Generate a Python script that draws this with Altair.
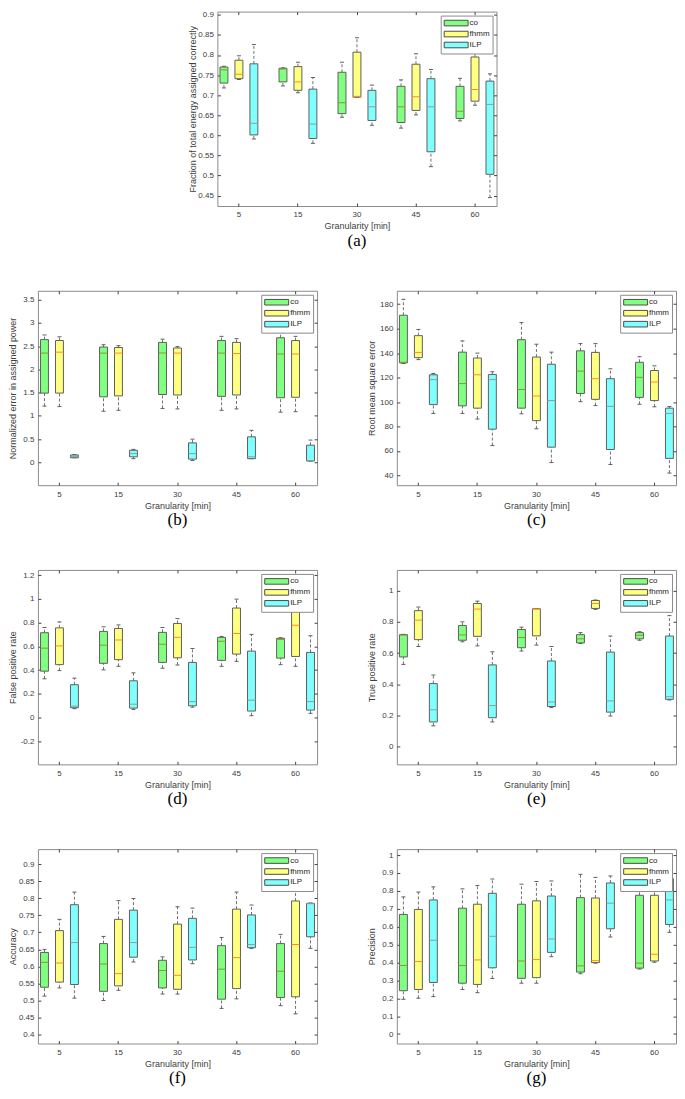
import altair as alt
import pandas as pd

# ---------------- data (lo, q1, median, q3, hi) per granularity ----------------
GRAN = ["5", "15", "30", "45", "60"]
SERIES = ["co", "fhmm", "ILP"]

A_CO = [(0.718, 0.730, 0.763, 0.770, 0.772), (0.723, 0.733, 0.765, 0.767, 0.768), (0.645, 0.654, 0.681, 0.757, 0.782), (0.618, 0.632, 0.671, 0.722, 0.738), (0.636, 0.642, 0.660, 0.722, 0.742)]
A_FHMM = [(0.739, 0.741, 0.752, 0.787, 0.798), (0.706, 0.712, 0.733, 0.771, 0.782), (0.695, 0.695, 0.697, 0.807, 0.843), (0.651, 0.662, 0.696, 0.777, 0.803), (0.675, 0.685, 0.714, 0.795, 0.810)]
A_ILP = [(0.591, 0.601, 0.630, 0.778, 0.826), (0.580, 0.592, 0.628, 0.715, 0.744), (0.625, 0.637, 0.671, 0.712, 0.725), (0.522, 0.559, 0.671, 0.741, 0.764), (0.445, 0.503, 0.677, 0.735, 0.753)]

B_CO = [(1.21, 1.49, 2.35, 2.64, 2.74), (1.10, 1.41, 2.35, 2.48, 2.53), (1.16, 1.46, 2.35, 2.58, 2.65), (1.12, 1.42, 2.35, 2.62, 2.71), (1.08, 1.39, 2.33, 2.68, 2.79)]
B_FHMM = [(1.20, 1.49, 2.37, 2.62, 2.70), (1.12, 1.43, 2.35, 2.47, 2.51), (1.15, 1.45, 2.35, 2.46, 2.49), (1.15, 1.45, 2.34, 2.58, 2.66), (1.09, 1.40, 2.33, 2.62, 2.71)]
B_ILP = [(0.10, 0.10, 0.13, 0.16, 0.17), (0.08, 0.12, 0.19, 0.26, 0.28), (0.04, 0.07, 0.19, 0.42, 0.50), (0.08, 0.08, 0.12, 0.55, 0.69), (0.03, 0.03, 0.04, 0.37, 0.48)]

C_CO = [(131.5, 132, 132.5, 171, 184), (90.7, 96.9, 115.1, 140.8, 150), (90.4, 95, 110.3, 151, 165), (100.3, 107, 125.3, 141.9, 147.8), (98.2, 103.8, 120.2, 132.5, 137.1)]
C_FHMM = [(134.7, 136.3, 140.6, 154.3, 159.4), (86.1, 95, 122.3, 136, 140), (78.1, 84.8, 104.9, 136.8, 147.3), (97.1, 102.2, 119.1, 140.6, 147.8), (96.1, 101.2, 116.4, 125.8, 129.6)]
C_ILP = [(90.7, 97.9, 118.3, 122.3, 123.4), (64.4, 77.8, 118.3, 122.6, 124.8), (50.5, 63.1, 101.2, 130.9, 140.8), (48.9, 61.2, 96.5, 119.1, 127.2), (41.9, 53.9, 90.7, 95, 96.3)]

D_CO = [(0.327, 0.391, 0.585, 0.715, 0.759), (0.402, 0.457, 0.610, 0.726, 0.765), (0.416, 0.465, 0.618, 0.718, 0.759), (0.432, 0.482, 0.643, 0.676, 0.684), (0.446, 0.501, 0.659, 0.668, 0.673)]
D_FHMM = [(0.396, 0.446, 0.604, 0.756, 0.806), (0.432, 0.488, 0.654, 0.751, 0.781), (0.443, 0.504, 0.676, 0.793, 0.834), (0.474, 0.535, 0.709, 0.923, 0.998), (0.432, 0.515, 0.779, 0.95, 1.02)]
D_ILP = [(0.075, 0.083, 0.097, 0.277, 0.332), (0.069, 0.080, 0.113, 0.310, 0.377), (0.088, 0.099, 0.135, 0.465, 0.582), (0.016, 0.055, 0.147, 0.560, 0.701), (0.036, 0.063, 0.135, 0.549, 0.690)]

E_CO = [(0.527, 0.575, 0.715, 0.718, 0.72), (0.672, 0.682, 0.716, 0.777, 0.80), (0.613, 0.634, 0.699, 0.751, 0.766), (0.661, 0.665, 0.691, 0.718, 0.731), (0.682, 0.691, 0.714, 0.731, 0.737)]
E_FHMM = [(0.642, 0.686, 0.811, 0.872, 0.895), (0.646, 0.707, 0.882, 0.918, 0.933), (0.651, 0.71, 0.882, 0.884, 0.885), (0.880, 0.886, 0.918, 0.937, 0.94), (0.866, 0.88, 0.905, 0.925, 0.935)]
E_ILP = [(0.133, 0.158, 0.236, 0.404, 0.459), (0.158, 0.185, 0.263, 0.524, 0.608), (0.25, 0.257, 0.286, 0.549, 0.642), (0.196, 0.221, 0.293, 0.606, 0.709), (0.299, 0.303, 0.32, 0.709, 0.84)]

F_CO = [(0.513, 0.539, 0.612, 0.641, 0.65), (0.50, 0.527, 0.607, 0.667, 0.688), (0.519, 0.537, 0.588, 0.618, 0.628), (0.477, 0.504, 0.592, 0.661, 0.685), (0.485, 0.509, 0.586, 0.667, 0.694)]
F_FHMM = [(0.537, 0.554, 0.610, 0.705, 0.738), (0.530, 0.543, 0.579, 0.738, 0.793), (0.519, 0.533, 0.574, 0.724, 0.775), (0.505, 0.535, 0.626, 0.768, 0.818), (0.461, 0.511, 0.664, 0.792, 0.833)]
F_ILP = [(0.507, 0.547, 0.670, 0.781, 0.818), (0.613, 0.627, 0.670, 0.765, 0.799), (0.608, 0.619, 0.656, 0.741, 0.771), (0.653, 0.655, 0.664, 0.751, 0.780), (0.653, 0.687, 0.784, 0.785, 0.786)]

G_CO = [(0.194, 0.242, 0.383, 0.668, 0.766), (0.249, 0.284, 0.383, 0.703, 0.811), (0.284, 0.311, 0.408, 0.725, 0.837), (0.337, 0.346, 0.381, 0.762, 0.892), (0.363, 0.368, 0.396, 0.775, 0.84)]
G_FHMM = [(0.20, 0.249, 0.405, 0.696, 0.793), (0.231, 0.277, 0.414, 0.725, 0.830), (0.284, 0.315, 0.416, 0.744, 0.852), (0.396, 0.399, 0.410, 0.760, 0.875), (0.401, 0.408, 0.445, 0.775, 0.84)]
G_ILP = [(0.209, 0.288, 0.524, 0.749, 0.822), (0.310, 0.370, 0.546, 0.786, 0.866), (0.432, 0.456, 0.531, 0.771, 0.855), (0.542, 0.588, 0.731, 0.844, 0.883), (0.568, 0.612, 0.749, 0.868, 0.875)]

A_TICKS = [0.45, 0.5, 0.55, 0.6, 0.65, 0.7, 0.75, 0.8, 0.85, 0.9]
B_TICKS = [0, 0.5, 1, 1.5, 2, 2.5, 3, 3.5]
C_TICKS = [40, 60, 80, 100, 120, 140, 160, 180]
D_TICKS = [-0.2, 0, 0.2, 0.4, 0.6, 0.8, 1, 1.2]
E_TICKS = [0, 0.2, 0.4, 0.6, 0.8, 1]
F_TICKS = [0.4, 0.45, 0.5, 0.55, 0.6, 0.65, 0.7, 0.75, 0.8, 0.85, 0.9]
G_TICKS = [0, 0.1, 0.2, 0.3, 0.4, 0.5, 0.6, 0.7, 0.8, 0.9, 1]

# ---------------- styling ----------------
W, H = 280, 195
BOX_COLORS = ["#80ff80", "#ffff80", "#80ffff"]
MED_COLORS = ["#8a9a2a", "#ff8c1a", "#8a9f9f"]
EDGE = "#5f5f5f"
WHISK = "#707070"
FONT = "Liberation Sans"
TXT = "#404040"


def frame(co, fh, ilp):
    rows = []
    for s, vals in zip(SERIES, [co, fh, ilp]):
        for g, (lo, q1, md, q3, hi) in zip(GRAN, vals):
            rows.append({"g": g, "s": s, "lo": lo, "q1": q1, "med": md, "q3": q3, "hi": hi})
    return pd.DataFrame(rows)


def panel(co, fh, ilp, ydom, yticks, ytitle, cap):
    df = frame(co, fh, ilp)
    xs = alt.Scale(domain=GRAN, paddingInner=0.3, paddingOuter=0.015)
    xos = alt.Scale(domain=SERIES, paddingInner=0.47, paddingOuter=0.115)
    ys = alt.Scale(domain=ydom, nice=False, zero=False)

    ax_bottom = alt.Axis(title="Granularity [min]", labelAngle=0, offset=-3, tickSize=3,
                         labelPadding=5, titlePadding=3, domain=False, grid=False)
    ax_top = alt.Axis(orient="top", labels=False, title=None, offset=-3, tickSize=3,
                      domain=False, grid=False, minExtent=0, maxExtent=0)
    ax_left = alt.Axis(title=ytitle, values=yticks, labelExpr="'' + datum.value", offset=-3,
                       tickSize=3, labelPadding=4, titlePadding=3, minExtent=20, maxExtent=20,
                       domain=False, grid=False)
    ax_right = alt.Axis(orient="right", values=yticks, labels=False, title=None, offset=-3,
                        tickSize=3, minExtent=0, maxExtent=0, domain=False, grid=False)

    def X(axis):
        return alt.X("g:N", scale=xs, sort=GRAN, axis=axis)

    XO = alt.XOffset("s:N", scale=xos, sort=SERIES)

    def Y(f, axis=None):
        return alt.Y(f, type="quantitative", scale=ys, axis=axis)

    base = alt.Chart(df)
    w_lo = base.mark_rule(color=WHISK, strokeDash=[3, 2], strokeWidth=1).encode(
        x=X(ax_bottom), xOffset=XO, y=Y("lo", ax_left), y2="q1")
    w_hi = base.mark_rule(color=WHISK, strokeDash=[3, 2], strokeWidth=1).encode(
        x=X(ax_top), xOffset=XO, y=Y("q3", ax_right), y2="hi")
    c_lo = base.mark_tick(color=EDGE, size=4, thickness=1, opacity=1).encode(
        x=X(None), xOffset=XO, y=Y("lo"))
    c_hi = base.mark_tick(color=EDGE, size=4, thickness=1, opacity=1).encode(
        x=X(None), xOffset=XO, y=Y("hi"))
    legend = alt.Legend(title=None, orient="top-right", offset=4, fillColor="white",
                        strokeColor="#8c8c8c", padding=3, rowPadding=0,
                        symbolType="M-1,-0.7H5V0.7H-1Z", symbolSize=64,
                        symbolStrokeColor="#4d4d4d", symbolStrokeWidth=1, symbolOpacity=1,
                        labelFont=FONT, labelFontSize=8, labelColor="#262626", labelOffset=17)
    box = base.mark_bar(stroke=EDGE, strokeWidth=1, opacity=1).encode(
        x=X(None), xOffset=XO, y=Y("q1"), y2="q3",
        color=alt.Color("s:N", scale=alt.Scale(domain=SERIES, range=BOX_COLORS), legend=legend))
    med = base.mark_tick(size=8, thickness=1, opacity=1).encode(
        x=X(None), xOffset=XO, y=Y("med"),
        fill=alt.Fill("s:N", scale=alt.Scale(domain=SERIES, range=MED_COLORS), legend=None))

    return alt.layer(w_lo, w_hi, c_lo, c_hi, box, med).resolve_axis(
        x="independent", y="independent").properties(
        width=W, height=H,
        title=alt.TitleParams(text=cap, orient="bottom", anchor="middle", frame="group",
                              font="Liberation Serif", fontSize=17, fontWeight="normal",
                              color="black", offset=2))


pa = panel(A_CO, A_FHMM, A_ILP, [0.424, 0.908], A_TICKS, "Fraction of total energy assigned correctly", "(a)")
pb = panel(B_CO, B_FHMM, B_ILP, [-0.49, 3.69], B_TICKS, "Normalized error in assigned power", "(b)")
pc = panel(C_CO, C_FHMM, C_ILP, [32, 191], C_TICKS, "Root mean square error", "(c)")
pd_ = panel(D_CO, D_FHMM, D_ILP, [-0.394, 1.244], D_TICKS, "False positive rate", "(d)")
pe = panel(E_CO, E_FHMM, E_ILP, [-0.114, 1.133], E_TICKS, "True positive rate", "(e)")
pf = panel(F_CO, F_FHMM, F_ILP, [0.374, 0.944], F_TICKS, "Accuracy", "(f)")
pg = panel(G_CO, G_FHMM, G_ILP, [-0.053, 1.033], G_TICKS, "Precision", "(g)")


def row(l, r):
    return alt.hconcat(l, r, spacing=49).resolve_scale(
        color="independent", fill="independent").resolve_legend(color="independent")


chart = alt.vconcat(pa, row(pb, pc), row(pd_, pe), row(pf, pg), spacing=40,
                    center=True).resolve_scale(
    color="independent", fill="independent").resolve_legend(color="independent").properties(
    padding=0).configure_view(stroke="#8c8c8c", strokeWidth=1).configure_axis(
    labelFont=FONT, titleFont=FONT, labelFontSize=8, titleFontSize=9, labelColor=TXT,
    titleColor=TXT, tickColor=TXT, titleFontWeight="normal")

chart.save("out.html", embed_options={"renderer": "svg", "actions": False})
